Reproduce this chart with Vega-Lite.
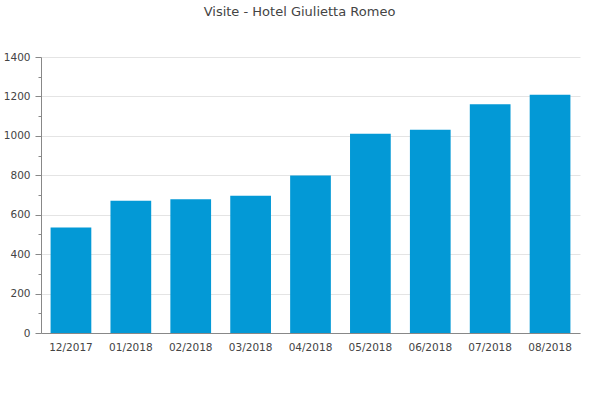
{
  "$schema": "https://vega.github.io/schema/vega-lite/v6.json",
  "autosize": "none",
  "width": 539,
  "height": 276,
  "padding": {"left": 41, "top": 57, "right": 20, "bottom": 67},
  "background": "white",
  "title": {
    "text": "Visite - Hotel Giulietta Romeo",
    "font": "DejaVu Sans",
    "fontSize": 13,
    "fontWeight": "normal",
    "color": "#444444",
    "anchor": "middle",
    "frame": "group",
    "dx": -11,
    "offset": 33
  },
  "data": {
    "values": [
      {"mese": "12/2017", "visite": 535},
      {"mese": "01/2018", "visite": 671},
      {"mese": "02/2018", "visite": 678},
      {"mese": "03/2018", "visite": 696},
      {"mese": "04/2018", "visite": 799},
      {"mese": "05/2018", "visite": 1011},
      {"mese": "06/2018", "visite": 1031},
      {"mese": "07/2018", "visite": 1160},
      {"mese": "08/2018", "visite": 1209}
    ]
  },
  "mark": {"type": "bar", "color": "#0399d6"},
  "encoding": {
    "x": {
      "field": "mese",
      "type": "ordinal",
      "sort": null,
      "scale": {"paddingInner": 0.32, "paddingOuter": 0.16},
      "axis": {
        "title": null,
        "labelAngle": 0,
        "ticks": false,
        "labelPadding": 9,
        "labelFont": "DejaVu Sans",
        "labelFontSize": 10.5,
        "labelColor": "#444444",
        "domainColor": "#888888",
        "domainWidth": 1
      }
    },
    "y": {
      "field": "visite",
      "type": "quantitative",
      "scale": {"domain": [0, 1400], "nice": false},
      "axis": {
        "title": null,
        "format": "d",
        "values": [0, 100, 200, 300, 400, 500, 600, 700, 800, 900, 1000, 1100, 1200, 1300, 1400],
        "labelExpr": "datum.value % 200 === 0 ? datum.label : ''",
        "tickSize": {"condition": {"test": "datum.value % 200 === 0", "value": 6}, "value": 3},
        "tickColor": "#888888",
        "labelPadding": 5,
        "labelFont": "DejaVu Sans",
        "labelFontSize": 10.5,
        "labelColor": "#444444",
        "domainColor": "#888888",
        "gridColor": "#e4e4e4",
        "gridOpacity": {"condition": {"test": "datum.value % 200 === 0", "value": 1}, "value": 0}
      }
    }
  },
  "config": {"view": {"stroke": null}}
}
